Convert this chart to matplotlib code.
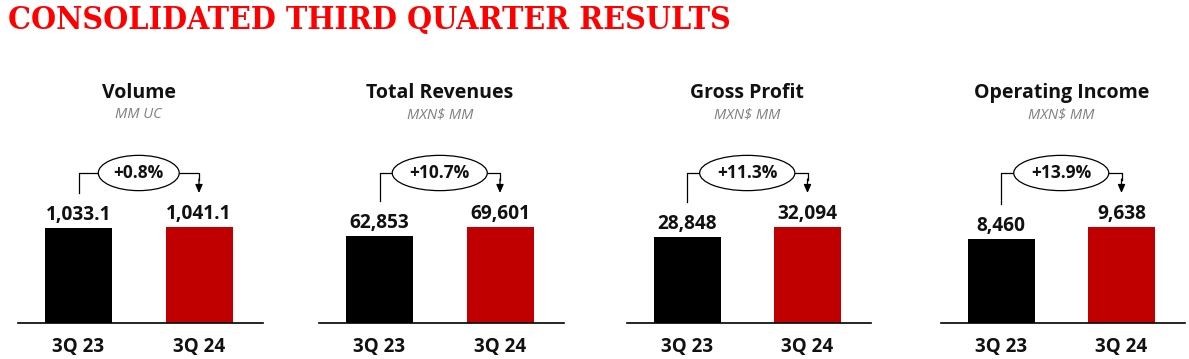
import matplotlib.pyplot as plt
import matplotlib.transforms as mtransforms

# data
titles = ["Volume", "Total Revenues", "Gross Profit", "Operating Income"]
units = ["MM UC", "MXN$ MM", "MXN$ MM", "MXN$ MM"]
periods = ["3Q 23", "3Q 24"]
prev_values = [1033.1, 62853, 28848, 8460]
curr_values = [1041.1, 69601, 32094, 9638]
decimals = [1, 0, 0, 0]
changes = ["+0.8%", "+10.7%", "+11.3%", "+13.9%"]

W, H = 1189, 359
fig = plt.figure(figsize=(W / 100, H / 100), dpi=100)
fig.patch.set_facecolor("white")

FONT = ["Open Sans", "DejaVu Sans"]
BASE_Y = 323      # baseline, px from top
BAR_PX = 96       # height of tallest bar in px
UNIT_PX = 120.5   # px between bar centres
lefts = [18.25, 319.25, 626.75, 940.75]
xmin, xmax = -0.5, 1.53


def fy(y):
    """px from top of figure -> axes fraction"""
    return (BASE_Y - y) / BAR_PX


for i in range(4):
    left = lefts[i]
    width = (xmax - xmin) * UNIT_PX
    ax = fig.add_axes([left / W, (H - BASE_Y) / H, width / W, BAR_PX / H])
    vals = [prev_values[i], curr_values[i]]
    ax.bar([0, 1], vals, width=67 / UNIT_PX, color=["#000000", "#C00000"], zorder=2)
    ax.set_xlim(xmin, xmax)
    ax.set_ylim(0, max(vals))
    for s in ["top", "left", "right"]:
        ax.spines[s].set_visible(False)
    ax.spines["bottom"].set_linewidth(1.2)
    ax.set_xticks([])
    ax.set_yticks([])
    ax.patch.set_alpha(0)

    tr = mtransforms.blended_transform_factory(ax.transData, ax.transAxes)

    # value labels
    for x, v in zip([0, 1], vals):
        ax.annotate(f"{v:,.{decimals[i]}f}", xy=(x, v), xytext=(0, 5.8),
                    textcoords="offset points", ha="center", va="baseline",
                    fontsize=13.8, fontweight="bold", family=FONT, color="#111111")

    # period labels
    for x, p in zip([0, 1], periods):
        ax.text(x, fy(347), p, transform=tr, ha="center", va="center",
                fontsize=13.5, fontweight="bold", family=FONT, color="#111111")

    # panel titles
    ax.text(0.5, fy(93), titles[i], transform=tr, ha="center", va="center",
            fontsize=14, fontweight="bold", family=FONT, color="#111111")
    ax.text(0.5, fy(115), units[i], transform=tr, ha="center", va="center",
            fontsize=10.5, style="italic", family=FONT, color="#7f7f7f")

    # bracket with change
    bar_top_px = BASE_Y - BAR_PX * vals[0] / max(vals)
    ax.plot([0, 0, 1, 1], [fy(bar_top_px - 35), fy(173), fy(173), fy(180)],
            transform=tr, color="black", lw=0.9, clip_on=False, zorder=3)
    ax.annotate("", xy=(1, fy(193)), xycoords=tr, xytext=(1, fy(179)), textcoords=tr,
                arrowprops=dict(arrowstyle="-|>,head_length=0.5,head_width=0.22",
                                color="black", lw=0.9, shrinkA=0, shrinkB=0))
    ax.text(0.5, fy(173), changes[i], transform=tr, ha="center", va="center",
            fontsize=12.5, fontweight="bold", family=FONT, color="#111111", zorder=4,
            bbox=dict(boxstyle="ellipse,pad=0.2", fc="white", ec="black", lw=0.9))

fig.text(8 / W, 1 - 21 / H, "CONSOLIDATED THIRD QUARTER RESULTS", ha="left", va="center",
         fontsize=23, fontweight="bold", family="DejaVu Serif", fontstretch="condensed",
         color="#FF0000")

fig.savefig("out.png", dpi=100)
